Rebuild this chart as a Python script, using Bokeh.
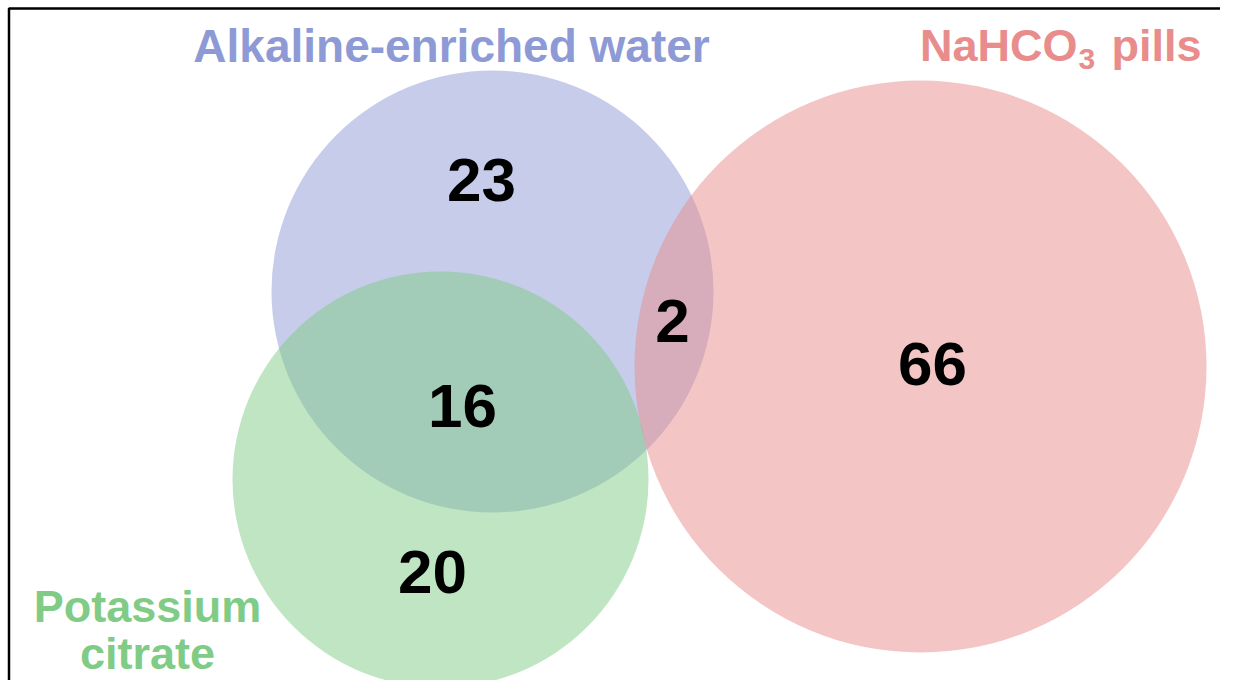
from bokeh.plotting import figure
from bokeh.models import ColumnDataSource, Range1d
from bokeh.core.properties import value
from bokeh.embed import file_html
from bokeh.resources import INLINE

# ---- data ----
set_names = ["Alkaline-enriched water", "NaHCO3 pills", "Potassium citrate"]
region_names = ["Alkaline only", "Alkaline & NaHCO3", "NaHCO3 only", "Alkaline & Potassium", "Potassium only"]
region_counts = [23, 2, 66, 16, 20]

# ---- layout (pixels, y downward) ----
circle_x = [492, 920, 440]
circle_y = [291, 366, 479]
circle_r = [221, 286, 208]
circle_colors = ["#8e9ad6", "#e88c8c", "#80cc86"]

count_x = [481, 672, 932, 462, 432]
count_y = [179, 320, 363, 405, 571]

FONT = value("Liberation Sans")
W, H = 1220, 680

p = figure(width=W, height=H, x_range=Range1d(0, W), y_range=Range1d(H, 0),
           output_backend="svg", toolbar_location=None, min_border=0)
p.axis.visible = False
p.grid.visible = False
p.outline_line_color = None
p.background_fill_color = "white"
p.border_fill_color = "white"

csrc = ColumnDataSource(dict(x=circle_x, y=circle_y, r=circle_r, c=circle_colors))
p.circle(x="x", y="y", radius="r", fill_color="c", fill_alpha=0.5, line_color=None, source=csrc)

nsrc = ColumnDataSource(dict(x=count_x, y=count_y, t=[str(v) for v in region_counts]))
p.text(x="x", y="y", text="t", source=nsrc, text_font=FONT, text_font_style="bold",
       text_font_size="62px", text_align="center", text_baseline="middle", text_color="black")

def label(x, y, t, color, size="45px", align="center"):
    p.text(x=[x], y=[y], text=[t], text_font=FONT, text_font_style="bold", text_font_size=size,
           text_align=align, text_baseline="middle", text_color=color)

label(451, 45, set_names[0], circle_colors[0], size="46px")
label(1077, 45, "NaHCO", circle_colors[1], align="right")
label(1078, 58, "3", circle_colors[1], size="30px", align="left")
label(1111, 45, "pills", circle_colors[1], align="left")
label(147, 606, "Potassium", circle_colors[2])
label(147, 653, "citrate", circle_colors[2])

# frame border (top and left only, as in the reference)
p.line(x=[8.5, 8.5, 1236], y=[700, 8, 8], line_color="black", line_width=2.5)

open("out.html", "w").write(file_html(p, INLINE))
